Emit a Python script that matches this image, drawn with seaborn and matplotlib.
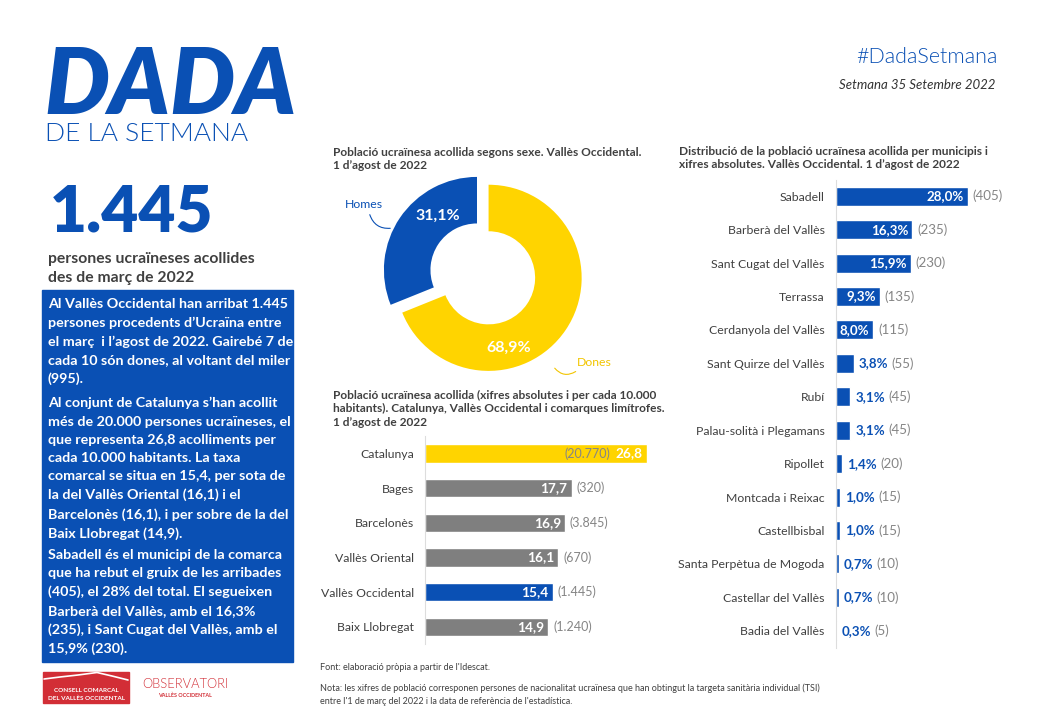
import matplotlib
matplotlib.use('Agg')
import matplotlib.pyplot as plt
import seaborn as sns
from matplotlib.patches import Rectangle, FancyArrowPatch
from matplotlib.transforms import offset_copy

# dades
sexe = ['Homes', 'Dones']
sexe_pct = [31.1, 68.9]

comarques = ['Catalunya', 'Bages', 'Barcelonès', 'Vallès Oriental',
             'Vallès Occidental', 'Baix Llobregat']
taxa = [26.8, 17.7, 16.9, 16.1, 15.4, 14.9]
acollits = [20770, 320, 3845, 670, 1445, 1240]

municipis = ['Sabadell', 'Barberà del Vallès', 'Sant Cugat del Vallès', 'Terrassa',
             'Cerdanyola del Vallès', 'Sant Quirze del Vallès', 'Rubí',
             'Palau-solità i Plegamans', 'Ripollet', 'Montcada i Reixac',
             'Castellbisbal', 'Santa Perpètua de Mogoda', 'Castellar del Vallès',
             'Badia del Vallès']
mun_pct = [28.0, 16.3, 15.9, 9.3, 8.0, 3.8, 3.1, 3.1, 1.4, 1.0, 1.0, 0.7, 0.7, 0.3]
mun_n = [405, 235, 230, 135, 115, 55, 45, 45, 20, 15, 15, 10, 10, 5]

BLUE = '#0a50b4'
YELLOW = '#ffd400'
GREY = '#7f7f7f'
TXT = '#404040'
CNT = '#858585'
RED = '#d22e36'

sns.set_theme(style='white')
plt.rcParams['font.family'] = ['Lato', 'DejaVu Sans']

W, H = 1040, 720
fig = plt.figure(figsize=(W / 100, H / 100), dpi=100)


def box(x0, y0, x1, y1):
    return [x0 / W, 1 - y1 / H, (x1 - x0) / W, (y1 - y0) / H]


def coma(v):
    return f'{v:.1f}'.replace('.', ',')


def punt(n):
    return f'{n:,}'.replace(',', '.')


# capa de fons en pixels
bg = fig.add_axes([0, 0, 1, 1], zorder=0)
bg.set_xlim(0, W)
bg.set_ylim(H, 0)
bg.axis('off')

# capçalera
bg.text(44, 114, 'DADA', color=BLUE, fontsize=66, fontweight='heavy', style='italic',
        va='baseline', ha='left')
bg.text(45, 141, 'DE LA SETMANA', color=BLUE, fontsize=19, fontweight=300,
        va='baseline', ha='left')
bg.text(998, 63, '#DadaSetmana', color=BLUE, fontsize=15.5, fontweight=300,
        va='baseline', ha='right')
bg.text(995, 89, 'Setmana 35 Setembre 2022', color='#333333', fontsize=9.5, style='italic',
        va='baseline', ha='right')

bg.text(50, 232, '1.445', color=BLUE, fontsize=46, fontweight='heavy', va='baseline')
bg.text(48, 263, 'persones ucraïneses acollides', color=TXT, fontsize=11.3,
        fontweight='bold', va='baseline')
bg.text(48, 282, 'des de març de 2022', color=TXT, fontsize=11.3,
        fontweight='bold', va='baseline')

# requadre blau
bg.add_patch(Rectangle((42, 290), 251, 372, color=BLUE, zorder=1))
paragrafs = [
    (298, "Al Vallès Occidental han arribat 1.445\npersones procedents d’Ucraïna entre\n"
          "el març  i l’agost de 2022. Gairebé 7 de\ncada 10 són dones, al voltant del miler\n(995)."),
    (397, "Al conjunt de Catalunya s’han acollit\nmés de 20.000 persones ucraïneses, el\n"
          "que representa 26,8 acolliments per\ncada 10.000 habitants. La taxa\n"
          "comarcal se situa en 15,4, per sota de\nla del Vallès Oriental (16,1) i el\n"
          "Barcelonès (16,1), i per sobre de la del\nBaix Llobregat (14,9)."),
    (549, "Sabadell és el municipi de la comarca\nque ha rebut el gruix de les arribades\n"
          "(405), el 28% del total. El segueixen\nBarberà del Vallès, amb el 16,3%\n"
          "(235), i Sant Cugat del Vallès, amb el\n15,9% (230)."),
]
for y, t in paragrafs:
    bg.text(48, y, t, color='white', fontsize=10.3, fontweight='bold', va='top',
            linespacing=1.62, zorder=2)

# logos
bg.add_patch(Rectangle((43, 672), 86, 31, color=RED, zorder=1))
bg.plot([44, 60, 78, 97, 112, 128], [679, 677, 675, 672.5, 676, 680], color='white', lw=1.2, zorder=2)
bg.text(86, 691, 'CONSELL COMARCAL', color='white', fontsize=4.6, fontweight='bold',
        ha='center', va='center', zorder=2)
bg.text(86, 698, 'DEL VALLÈS OCCIDENTAL', color='white', fontsize=4.6, fontweight='bold',
        ha='center', va='center', zorder=2)
bg.text(185, 684, 'OBSERVATORI', color=RED, fontsize=9.3, fontweight=300,
        ha='center', va='center')
bg.text(185, 695, 'VALLÈS OCCIDENTAL', color=RED, fontsize=3.9, fontweight='bold',
        ha='center', va='center')

# peu
bg.text(320, 667, "Font: elaboració pròpia a partir de l'Idescat.", color=TXT,
        fontsize=6.5, va='center')
bg.text(320, 688, "Nota: les xifres de població corresponen persones de nacionalitat ucraïnesa "
        "que han obtingut la targeta sanitària individual (TSI)", color=TXT,
        fontsize=6.5, va='center')
bg.text(320, 701, "entre l'1 de març del 2022 i la data de referència de l'estadística.",
        color=TXT, fontsize=6.5, va='center')

# títols dels gràfics
bg.text(333, 147, "Població ucraïnesa acollida segons sexe. Vallès Occidental.\n1 d’agost de 2022",
        color=TXT, fontsize=8.6, fontweight='bold', va='top', linespacing=1.25)
bg.text(333, 390, "Població ucraïnesa acollida (xifres absolutes i per cada 10.000\n"
        "habitants). Catalunya, Vallès Occidental i comarques limítrofes.\n1 d’agost de 2022",
        color=TXT, fontsize=8.6, fontweight='bold', va='top', linespacing=1.25)
bg.text(679, 146, "Distribució de la població ucraïnesa acollida per municipis i\n"
        "xifres absolutes. Vallès Occidental. 1 d’agost de 2022",
        color=TXT, fontsize=8.6, fontweight='bold', va='top', linespacing=1.25)

# donut
axp = fig.add_axes(box(356, 149, 598, 391), zorder=2)
axp.pie(sexe_pct, colors=[BLUE, YELLOW], startangle=90, counterclock=True,
        explode=[0, 0.15], radius=1, wedgeprops=dict(width=0.5, linewidth=0))
axp.set_xlim(-1.3, 1.3)
axp.set_ylim(-1.3, 1.3)
axp.set_aspect('equal')
axp.axis('off')
axp.patch.set_alpha(0)
axp.text(-0.42, 0.58, f'{coma(sexe_pct[0])}%', color='white', fontsize=11.5,
         fontweight='bold', ha='center', va='center')
axp.text(0.345, -0.84, f'{coma(sexe_pct[1])}%', color='white', fontsize=11.5,
         fontweight='bold', ha='center', va='center')
bg.text(364, 204, sexe[0], color=BLUE, fontsize=8.8, ha='center', va='center')
bg.text(594, 363, sexe[1], color='#f2c500', fontsize=8.8, ha='center', va='center')
bg.add_patch(FancyArrowPatch((369, 212), (393, 228), arrowstyle='-', color=BLUE, lw=0.8,
                             connectionstyle='arc3,rad=0.45'))
bg.add_patch(FancyArrowPatch((553, 366), (578, 370), arrowstyle='-', color='#f2c500', lw=0.8,
                             connectionstyle='arc3,rad=0.5'))


def estil(ax):
    ax.set_xlabel('')
    ax.set_ylabel('')
    ax.set_xticks([])
    ax.tick_params(axis='y', length=0, pad=8, labelsize=8.8, labelcolor=TXT)
    for s in ['top', 'right', 'bottom']:
        ax.spines[s].set_visible(False)
    ax.spines['left'].set_color('#dddddd')
    ax.spines['left'].set_linewidth(0.8)
    ax.patch.set_alpha(0)


# comarques
axc = fig.add_axes(box(425.3, 436.2, 660, 644), zorder=2)
col_c = [YELLOW if c == 'Catalunya' else BLUE if c == 'Vallès Occidental' else GREY
         for c in comarques]
sns.barplot(x=taxa, y=comarques, hue=comarques, palette=col_c, orient='h', width=0.53,
            legend=False, saturation=1, ax=axc)
axc.set_xlim(0, (660 - 425.3) / 8.26)
axc.set_ylim(len(comarques) - 0.5, -0.5)
estil(axc)

# municipis
axm = fig.add_axes(box(835.7, 179.5, 1035.7, 647.5), zorder=2)
sns.barplot(x=mun_pct, y=municipis, color=BLUE, orient='h', width=0.57, saturation=1, ax=axm)
axm.set_xlim(0, 200 / 4.71)
axm.set_ylim(len(municipis) - 0.5, -0.5)
estil(axm)

fig.canvas.draw()
rend = fig.canvas.get_renderer()


def darrere(ax, t, gap):
    bb = t.get_window_extent(rend)
    return ax.transData.inverted().transform((bb.x1 + gap, 0))[0]


def davant(ax, t, gap):
    bb = t.get_window_extent(rend)
    return ax.transData.inverted().transform((bb.x0 - gap, 0))[0]


dins_c = offset_copy(axc.transData, fig=fig, x=-4, y=0, units='dots')
fora_c = offset_copy(axc.transData, fig=fig, x=5, y=0, units='dots')
for i, (v, n) in enumerate(zip(taxa, acollits)):
    t = axc.text(v, i, coma(v), color='white', fontsize=9.8, fontweight='bold',
                 ha='right', va='center', transform=dins_c)
    if v > 20:
        axc.text(davant(axc, t, 5), i, f'({punt(n)})', color=CNT, fontsize=9,
                 ha='right', va='center')
    else:
        axc.text(v, i, f'({punt(n)})', color=CNT, fontsize=9, ha='left', va='center',
                 transform=fora_c)

dins_m = offset_copy(axm.transData, fig=fig, x=-4, y=0, units='dots')
fora_m = offset_copy(axm.transData, fig=fig, x=5, y=0, units='dots')
for i, (v, n) in enumerate(zip(mun_pct, mun_n)):
    if v >= 5:
        axm.text(v, i, f'{coma(v)}%', color='white', fontsize=9.6, fontweight='bold',
                 ha='right', va='center', transform=dins_m)
        axm.text(v, i, f'({n})', color=CNT, fontsize=9.6, ha='left', va='center',
                 transform=fora_m)
    else:
        t = axm.text(v, i, f'{coma(v)}%', color=BLUE, fontsize=9.6, fontweight='bold',
                     ha='left', va='center', transform=fora_m)
        axm.text(darrere(axm, t, 3), i, f'({n})', color=CNT, fontsize=9.6,
                 ha='left', va='center')

fig.savefig('out.png', dpi=100)
